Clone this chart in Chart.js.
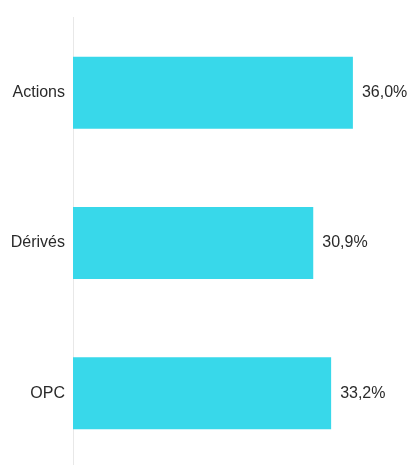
<!DOCTYPE html>
<html>
<head>
<meta charset="utf-8">
<script src="https://cdn.jsdelivr.net/npm/chart.js@4"></script>
<style>
html,body{margin:0;padding:0;background:#fff;overflow:hidden;}
canvas{display:block;}
</style>
</head>
<body>
<canvas id="c" width="410" height="486" style="width:410px;height:486px;"></canvas>
<script>
const categories = ["Actions", "Dérivés", "OPC"];
const values = [36.0, 30.9, 33.2];
const valueLabels = ["36,0%", "30,9%", "33,2%"];

const valueLabelPlugin = {
  id: 'valueLabels',
  afterDatasetsDraw(chart) {
    const ctx = chart.ctx;
    const meta = chart.getDatasetMeta(0);
    ctx.save();
    ctx.font = '16px "Liberation Sans", Arial, sans-serif';
    ctx.fillStyle = '#2a2a2a';
    ctx.textAlign = 'left';
    ctx.textBaseline = 'middle';
    meta.data.forEach((bar, i) => {
      ctx.fillText(valueLabels[i], bar.x + 9, bar.y);
    });
    ctx.restore();
  }
};

new Chart(document.getElementById('c'), {
  type: 'bar',
  data: {
    labels: categories,
    datasets: [{
      data: values,
      backgroundColor: '#38d8ea',
      borderWidth: 0,
      categoryPercentage: 1,
      barPercentage: 0.48
    }]
  },
  options: {
    indexAxis: 'y',
    responsive: false,
    maintainAspectRatio: false,
    devicePixelRatio: 1,
    animation: false,
    layout: { padding: { top: 16, bottom: 1, left: 0, right: 26 } },
    plugins: { legend: { display: false }, tooltip: { enabled: false } },
    scales: {
      x: { display: false, min: 0, max: 40 },
      y: {
        grid: { display: false, drawTicks: false },
        border: { display: true, color: '#e8e8e8', width: 1 },
        ticks: {
          color: '#2a2a2a',
          padding: 8,
          font: { family: '"Liberation Sans", Arial, sans-serif', size: 16 }
        },
        afterFit(scale) { scale.width = 73; }
      }
    }
  },
  plugins: [valueLabelPlugin]
});
</script>
</body>
</html>
